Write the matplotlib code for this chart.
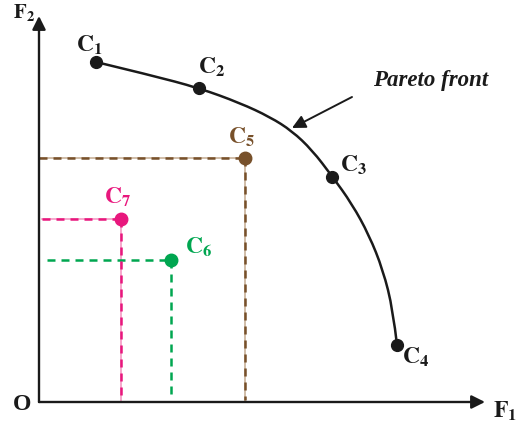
import matplotlib
matplotlib.use("Agg")
import matplotlib.pyplot as plt
from matplotlib.path import Path
from matplotlib.patches import PathPatch

plt.rcParams['mathtext.fontset'] = 'stix'
plt.rcParams['font.family'] = ['Liberation Serif', 'DejaVu Serif']

# points on the Pareto front (F1, F2)
front_names = ["1", "2", "3", "4"]
front_f1 = [57, 160, 293, 358]
front_f2 = [340, 314, 225, 57]

# the front curve
curve_f1 = [57, 111, 160, 201, 231, 253, 273, 293, 313, 330, 344, 354, 358]
curve_f2 = [340, 327, 314, 299, 285, 271, 252, 226, 198, 167, 132, 92, 57]

# dominated points
other_names = ["5", "6", "7"]
other_f1 = [206, 132, 82]
other_f2 = [244, 142, 183]
other_colors = ["#77502a", "#00a650", "#e8177d"]
other_light = ["#c8b29a", None, "#f59ac4"]

fig = plt.figure(figsize=(5.18, 4.25), dpi=100)
ax = fig.add_axes([0, 0, 1, 1])
ax.set_xlim(-39, 479)
ax.set_ylim(-23, 402)
ax.axis('off')

# axes with arrows
for tip in [(446, 0), (0, 386)]:
    ax.annotate("", xy=tip, xytext=(0, 0),
                arrowprops=dict(arrowstyle='-|>', lw=1.7, color='#1a1a1a', mutation_scale=20,
                                shrinkA=0, shrinkB=0))

# pareto front, drawn as a smooth quadratic path through the read points
pts = list(zip(curve_f1, curve_f2))
verts = [pts[0]]
codes = [Path.MOVETO]
for i in range(1, len(pts) - 1):
    mid = ((pts[i][0] + pts[i + 1][0]) / 2, (pts[i][1] + pts[i + 1][1]) / 2)
    if i == len(pts) - 2:
        mid = pts[-1]
    verts += [pts[i], mid]
    codes += [Path.CURVE3, Path.CURVE3]
ax.add_patch(PathPatch(Path(verts, codes), fill=False, lw=1.8, color='#1a1a1a', zorder=3))
ax.plot(front_f1, front_f2, 'o', color='#1a1a1a', ms=8.5, zorder=4)

# dominated points with dashed guides
starts = [0, 8, 3]
for x, y, c, lc, s in zip(other_f1, other_f2, other_colors, other_light, starts):
    if lc is not None:
        ax.plot([s, x], [y, y], color=lc, lw=1.2, zorder=1)
        ax.plot([x, x], [y, 0], color=lc, lw=1.2, zorder=1)
    ax.plot([s, x], [y, y], color=c, lw=1.8, ls=(0, (3.2, 2.4)), zorder=2)
    ax.plot([x, x], [y, 2], color=c, lw=1.8, ls=(0, (3.2, 2.4)), zorder=2)
    ax.plot(x, y, 'o', color=c, ms=9, zorder=4)

# labels
front_label_pos = [(50, 357), (173, 335), (315, 237), (377, 45)]
for n, (lx, ly) in zip(front_names, front_label_pos):
    ax.text(lx, ly, r'$\mathbf{C_{%s}}$' % n, fontsize=17, color='#1a1a1a',
            ha='center', va='center')

other_label_pos = [(203, 265), (160, 155), (79, 205)]
for n, (lx, ly), c in zip(other_names, other_label_pos, other_colors):
    ax.text(lx, ly, r'$\mathbf{C_{%s}}$' % n, fontsize=17, color=c,
            ha='center', va='center')

ax.text(-15, 390, r'$\mathbf{F_{2}}$', fontsize=15, color='#1a1a1a', ha='center', va='center')
ax.text(466, -9, r'$\mathbf{F_{1}}$', fontsize=17, color='#1a1a1a', ha='center', va='center')
ax.text(-17, -3, 'O', fontsize=17, fontweight='bold', color='#1a1a1a', ha='center', va='center')

# pareto front callout
ax.text(392, 322, 'Pareto front', fontsize=16.5, fontweight='bold', fontstyle='italic',
        color='#1a1a1a', ha='center', va='center')
ax.annotate("", xy=(253, 274), xytext=(313, 305),
            arrowprops=dict(arrowstyle='-|>', lw=1.4, color='#1a1a1a', mutation_scale=20,
                            shrinkA=0, shrinkB=0))

fig.savefig("out.png", dpi=100)
